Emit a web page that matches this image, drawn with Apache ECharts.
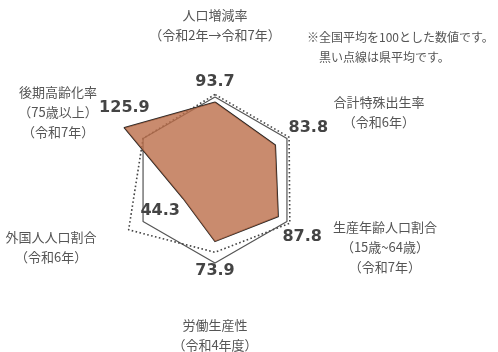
<!DOCTYPE html>
<html>
<head>
<meta charset="utf-8">
<script src="https://cdn.jsdelivr.net/npm/echarts@6/dist/echarts.min.js"></script>
<style>
  html, body { margin: 0; padding: 0; background: #fff; }
  #main { width: 498px; height: 352px; }
</style>
</head>
<body>
<div id="main"></div>
<script>
// radar axes, counter-clockwise from the top
var indicatorNames = [
    '人口増減率\n（令和2年→令和7年）',
    '後期高齢化率\n（75歳以上）\n（令和7年）',
    '外国人人口割合\n（令和6年）',
    '労働生産性\n（令和4年度）',
    '生産年齢人口割合\n（15歳~64歳）\n（令和7年）',
    '合計特殊出生率\n（令和6年）'
];
var cityScores = [93.7, 125.9, 44.3, 73.9, 87.8, 83.8];
var prefAverage = [103, 100, 120, 87, 104, 103];
var nationalAverage = [100, 100, 100, 100, 100, 100];
var axisMax = 130;
var noteText = '※全国平均を100とした数値です。\n　黒い点線は県平均です。';

var myChart = echarts.init(document.getElementById('main'));

// width of each name block so the lines are centred inside it
var nameWidths = [130, 80, 94, 80, 106, 94];
var nameRich = {};
nameWidths.forEach(function (w, i) {
    nameRich['n' + i] = { width: w, align: 'center', fontSize: 13, lineHeight: 20, color: '#555',
        fontFamily: '"Noto Sans CJK JP", sans-serif' };
});

// shift each value label away from its vertex (padding trick)
var valuePads = [[0, 0, 40, 0], [0, 0, 40, 0], [24, 46, 0, 0], [58, 0, 0, 0], [40, 0, 0, 48], [0, 0, 34, 66]];
var valueRich = {};
valuePads.forEach(function (p, i) {
    valueRich['v' + i] = { padding: p, fontSize: 16, fontWeight: 'bold', color: '#444',
        fontFamily: '"DejaVu Sans", sans-serif' };
});

var option = {
    animation: false,
    title: {
        text: noteText,
        left: 302,
        top: 22,
        textStyle: {
            fontSize: 12,
            fontWeight: 'normal',
            color: '#555',
            lineHeight: 20,
            fontFamily: '"Noto Sans CJK JP", sans-serif'
        }
    },
    radar: {
        center: [215, 180],
        radius: 108,
        shape: 'polygon',
        startAngle: 90,
        nameGap: 27,
        indicator: indicatorNames.map(function (n) {
            return { name: n, min: 0, max: axisMax };
        }),
        axisName: {
            rich: nameRich,
            formatter: function (name) {
                var i = indicatorNames.indexOf(name);
                return name.split('\n').map(function (s) {
                    return '{n' + i + '|' + s + '}';
                }).join('\n');
            }
        },
        splitLine: { show: false },
        splitArea: { show: false },
        axisLine: { show: false },
        axisTick: { show: false },
        axisLabel: { show: false }
    },
    series: [{
        type: 'radar',
        symbol: 'none',
        silent: true,
        z: 1,
        data: [{
            value: nationalAverage,
            name: '全国平均',
            lineStyle: { color: '#555', width: 1.2, type: 'solid' }
        }, {
            value: prefAverage,
            name: '県平均',
            lineStyle: { color: '#444', width: 1.6, type: [1.6, 2.4] }
        }]
    }, {
        type: 'radar',
        symbol: 'circle',
        symbolSize: 1,
        z: 2,
        data: [{
            value: cityScores,
            name: '市',
            itemStyle: { color: 'transparent' },
            lineStyle: { color: '#222', width: 1.5 },
            areaStyle: { color: 'rgba(188,110,74,0.8)', opacity: 1 },
            label: {
                show: true,
                position: 'inside',
                rich: valueRich,
                formatter: function (p) {
                    var i = cityScores.indexOf(p.value);
                    return '{v' + i + '|' + p.value.toFixed(1) + '}';
                }
            }
        }]
    }]
};

myChart.setOption(option);
</script>
</body>
</html>
